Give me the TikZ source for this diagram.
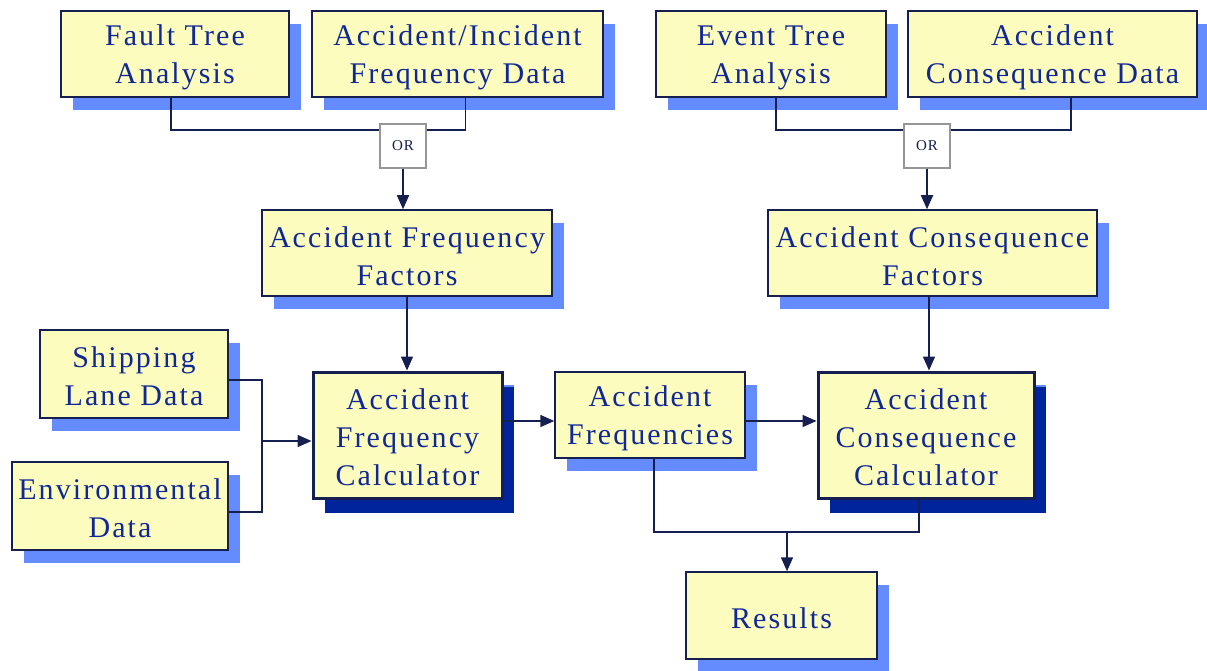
\documentclass[tikz,border=0pt]{standalone}
\usepackage{fontspec}
\setmainfont{Liberation Serif}[LetterSpace=7]
\usetikzlibrary{arrows.meta,shadows}
\definecolor{boxfill}{RGB}{252,252,190}
\definecolor{lightshadow}{RGB}{100,140,255}
\definecolor{darkshadow}{RGB}{0,36,155}
\definecolor{txtblue}{RGB}{16,40,150}
\definecolor{navy}{RGB}{22,32,80}
\definecolor{orgray}{RGB}{150,150,150}
\newcommand\topstrut{\rule{0pt}{27pt}}
\begin{document}
\begin{tikzpicture}[x=1pt,y=-1pt,
  box/.style={draw=navy, line width=1.5pt, fill=boxfill, inner sep=0pt,
    text=txtblue, align=center,
    font=\fontsize{30}{38}\selectfont,
    drop shadow={shadow xshift=12pt, shadow yshift=-13pt, fill=lightshadow, opacity=1}},
  calcbox/.style={box, line width=3pt,
    drop shadow={shadow xshift=12pt, shadow yshift=-15pt, fill=darkshadow, opacity=1}},
  orbox/.style={draw=orgray, line width=1.5pt, fill=white, inner sep=0pt,
    minimum width=46pt, minimum height=44pt, text=navy,
    font=\fontsize{15}{17}\selectfont},
  conn/.style={draw=navy, line width=1.6pt},
  arr/.style={conn, -{Triangle[length=14pt,width=12pt]}}]
\useasboundingbox (0,0) rectangle (1207,671);

% boxes
\node[box, minimum width=228pt, minimum height=86pt] (FTA) at (175,54) {\topstrut Fault Tree\\Analysis};
\node[box, minimum width=291pt, minimum height=86pt] (AIFD) at (457.5,54) {\topstrut Accident/Incident\\Frequency Data};
\node[box, minimum width=230pt, minimum height=86pt] (ETA) at (771,54) {\topstrut Event Tree\\Analysis};
\node[box, minimum width=289pt, minimum height=86pt] (ACD) at (1052.5,54) {\topstrut Accident\\Consequence Data};
\node[box, minimum width=290pt, minimum height=86pt] (AFF) at (407,253) {\topstrut Accident Frequency\\Factors};
\node[box, minimum width=329pt, minimum height=86pt] (ACF) at (932.5,253) {\topstrut Accident Consequence\\Factors};
\node[box, minimum width=188pt, minimum height=88pt] (SLD) at (134,374) {\rule{0pt}{25pt}Shipping\\Lane Data};
\node[box, minimum width=216pt, minimum height=88pt] (ED) at (120,506) {\rule{0pt}{25pt}Environmental\\Data};
\node[calcbox, minimum width=189pt, minimum height=126pt] (AFC) at (407.5,435) {\rule{0pt}{25pt}Accident\\Frequency\\Calculator};
\node[box, minimum width=190pt, minimum height=86pt] (AF) at (650,415) {\topstrut Accident\\Frequencies};
\node[calcbox, minimum width=216pt, minimum height=126pt] (ACC) at (926,435) {\rule{0pt}{25pt}Accident\\Consequence\\Calculator};
\node[box, minimum width=191pt, minimum height=87pt] (RES) at (781.5,615.5) {\topstrut Results};

% top-left OR junction
\coordinate (jl) at (403,130);
\draw[conn] ([xshift=-4pt]FTA.south) |- (jl);
\draw[conn] ([xshift=8pt]AIFD.south) |- (jl);
% top-right OR junction
\coordinate (jr) at (927,130);
\draw[conn] ([xshift=5pt]ETA.south) |- (jr);
\draw[conn] ([xshift=18.5pt]ACD.south) |- (jr);

\node[orbox] (ORL) at (403,146) {OR};
\node[orbox] (ORR) at (927,146) {OR};

\draw[arr] (ORL.south) -- (ORL.south |- AFF.north);
\draw[arr] (ORR.south) -- (ORR.south |- ACF.north);

\draw[arr] (AFF.south) -- (AFF.south |- AFC.north);
\draw[arr] ([xshift=-3.5pt]ACF.south) -- ([xshift=-3.5pt]ACF.south |- ACC.north);

% left inputs to calculator
\coordinate (jm) at (262,441);
\draw[conn] ([yshift=-6pt]SLD.east) -| (jm);
\draw[conn] ([yshift=-6pt]ED.east) -| (jm);
\draw[arr] (jm) -- (jm -| AFC.west);

% calculator chain
\coordinate (fy) at ([yshift=-6pt]AF.west);
\coordinate (fy2) at ([yshift=-6pt]AF.east);
\draw[arr] (fy -| AFC.east) -- (fy);
\draw[arr] (fy2) -- (fy2 -| ACC.west);

% to results
\coordinate (jb) at (787,532);
\draw[conn] ([xshift=4pt]AF.south) |- (jb);
\draw[conn] ([xshift=-7pt]ACC.south) |- (jb);
\draw[arr] (jb) -- (jb |- RES.north);
\end{tikzpicture}
\end{document}
